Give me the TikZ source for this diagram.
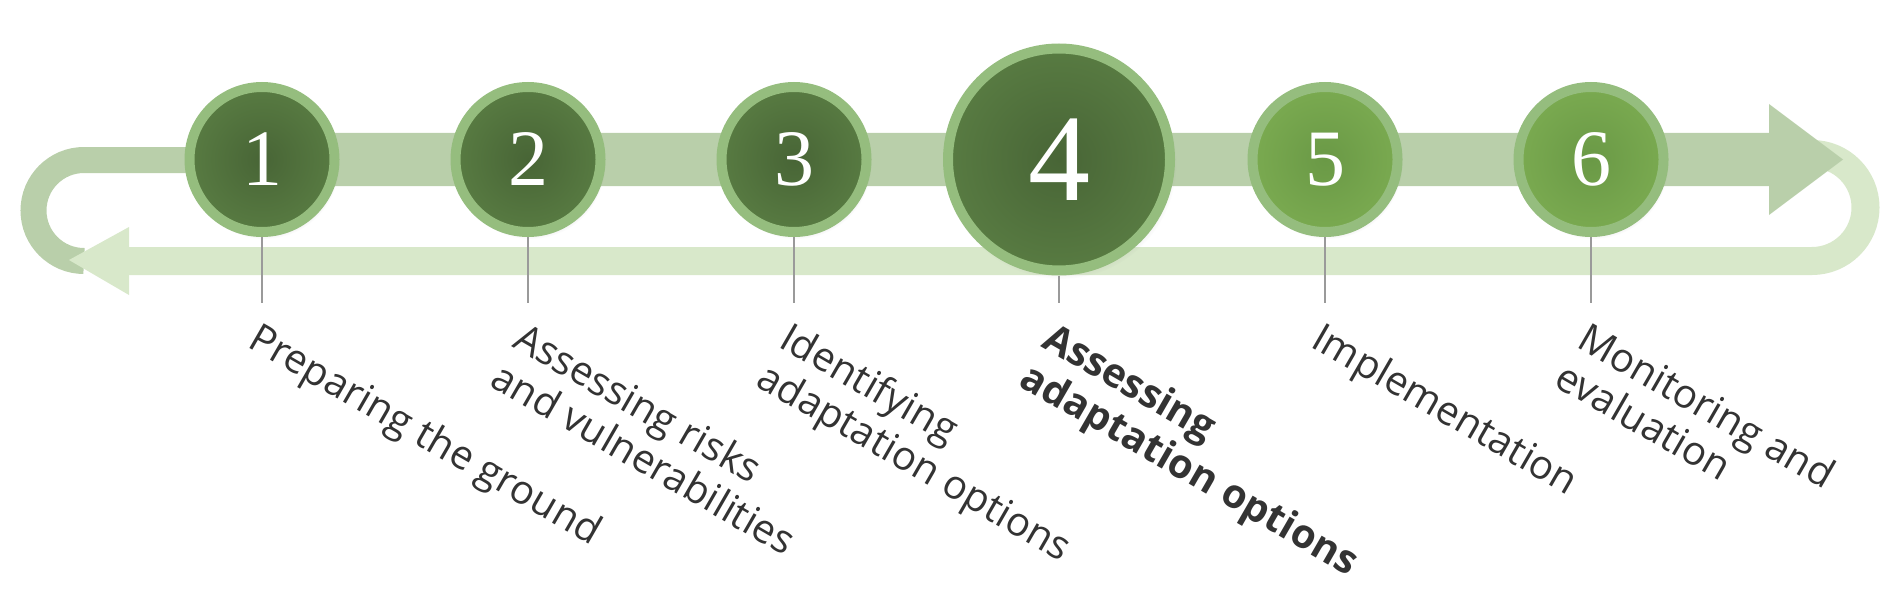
\documentclass[tikz,border=0pt]{standalone}
\usepackage{fontspec}
\newfontfamily\labelfont{Open Sans}
\newfontfamily\numfont{Liberation Serif}
\usetikzlibrary{shadows}
\definecolor{ringc}{HTML}{95BD7E}
\definecolor{darkin}{HTML}{486536}
\definecolor{darkout}{HTML}{587B42}
\definecolor{lightin}{HTML}{6A9946}
\definecolor{lightout}{HTML}{7AAA50}
\definecolor{bandtop}{HTML}{B9CFAA}
\definecolor{bandbot}{HTML}{D8E8CA}
\definecolor{connc}{HTML}{9A9A9A}
\definecolor{textc}{HTML}{333333}
\begin{document}
\begin{tikzpicture}[x=1pt,y=1pt,
  stepcircle/.style={circle, draw=ringc, line width=10pt, minimum size=145pt,
    inner sep=0pt, outer sep=5pt, shading=radial, inner color=darkin, outer color=darkout,
    text=white, font=\numfont\fontsize{80}{80}\selectfont,
    circular drop shadow={shadow xshift=2pt, shadow yshift=-4pt, shadow scale=1.04, opacity=0.25}},
  bigcircle/.style={stepcircle, minimum size=222pt, font=\numfont\fontsize{124}{124}\selectfont},
  lightcircle/.style={stepcircle, inner color=lightin, outer color=lightout},
  conn/.style={draw=connc, line width=1.5pt},
  lab/.style={text=textc, font=\labelfont\fontsize{40}{44}\selectfont, inner sep=0pt,
    anchor=base west, rotate=-30},
  blab/.style={lab, font=\labelfont\bfseries\fontsize{40}{44}\selectfont},
]
\useasboundingbox (0,0) rectangle (1902,-591);

% upper band: thin loop at the left
\draw[bandtop, line width=26pt] (262,-160) -- (84,-160)
  arc[start angle=90, end angle=270, radius=50.5];
% lower band with loop at the right
\draw[bandbot, line width=28pt] (129,-261) -- (1812,-261)
  arc[start angle=-90, end angle=90, radius=53.5] -- (1790,-154);
% lower arrow head
\fill[bandbot] (129,-227) -- (69,-260) -- (129,-295) -- cycle;
% upper thick band with arrow head
\fill[bandtop] (262,-133) -- (1769,-133) -- (1769,-104) -- (1843,-159.5)
  -- (1769,-215) -- (1769,-186) -- (262,-186) -- cycle;

% circles
\node[stepcircle] (c1) at (262,-159.5) {1};
\node[stepcircle] (c2) at (528,-159.5) {2};
\node[stepcircle] (c3) at (794,-159.5) {3};
\node[bigcircle] (c4) at (1059,-159.5) {4};
\node[lightcircle] (c5) at (1325,-159.5) {5};
\node[lightcircle] (c6) at (1591,-159.5) {6};

% connectors
\coordinate (e1) at (262,-303);
\coordinate (e2) at (528,-303);
\coordinate (e3) at (794,-303);
\coordinate (e4) at (1059,-303);
\coordinate (e5) at (1325,-303);
\coordinate (e6) at (1591,-303);
\draw[conn] (c1.south) -- (e1);
\draw[conn] (c2.south) -- (e2);
\draw[conn] (c3.south) -- (e3);
\draw[conn] (c4.south) -- (e4);
\draw[conn] (c5.south) -- (e5);
\draw[conn] (c6.south) -- (e6);

% labels
\node[lab] (l1) at (246,-346) {Preparing the ground};
\node[lab] (l2a) at (511,-346) {Assessing risks};
\node[lab] (l2b) at (488.5,-385) {and vulnerabilities};
\node[lab] (l3a) at (777,-346) {Identifying};
\node[lab] (l3b) at (754.5,-385) {adaptation options};
\node[blab] (l4a) at (1040,-346) {Assessing};
\node[blab] (l4b) at (1017.5,-385) {adaptation options};
\node[lab] (l5) at (1309,-346) {Implementation};
\node[lab] (l6a) at (1575,-346) {Monitoring and};
\node[lab] (l6b) at (1552.5,-385) {evaluation};
\end{tikzpicture}
\end{document}
